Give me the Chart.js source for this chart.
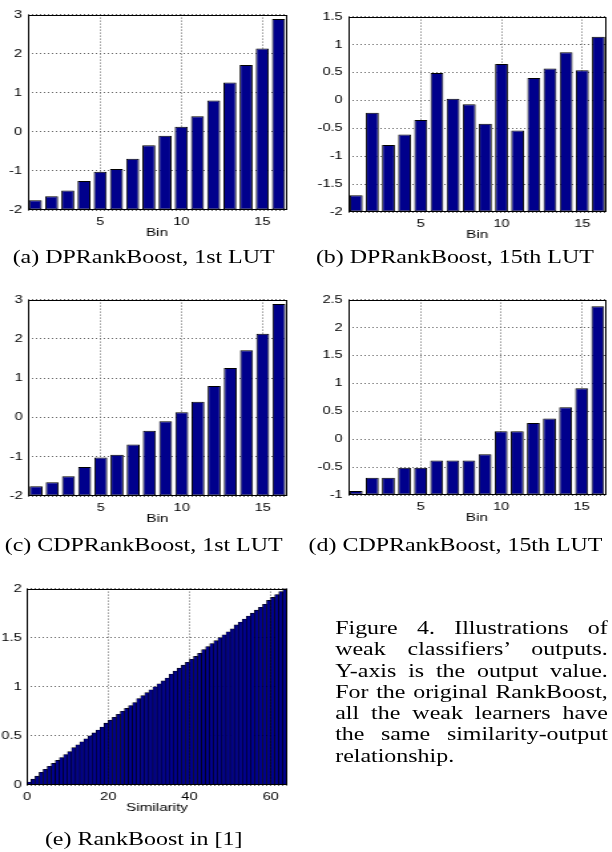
<!DOCTYPE html>
<html>
<head>
<meta charset="utf-8">
<script src="https://cdn.jsdelivr.net/npm/chart.js@4"></script>
<style>
html, body { margin: 0; padding: 0; background: #fff; overflow: hidden; }
#page { position: relative; width: 460px; height: 852px; transform: scaleX(1.33); transform-origin: 0 0; }
canvas { position: absolute; }
.cap { position: absolute; font-family: 'Liberation Serif', 'Times New Roman', serif; font-size: 18px; line-height: 18px; text-align: center; white-space: nowrap; color: #000; }
#note { position: absolute; left: 252px; top: 618px; width: 205px; font-family: 'Liberation Serif', 'Times New Roman', serif; font-size: 18px; line-height: 21.3px; text-align: justify; color: #000; }
.nw { white-space: nowrap; }
</style>
</head>
<body>
<div id="page">
  <canvas id="chartA" width="230" height="246" style="left:0px;top:4px"></canvas>
  <canvas id="chartB" width="225" height="246" style="left:235px;top:6px"></canvas>
  <canvas id="chartC" width="230" height="247" style="left:0px;top:289px"></canvas>
  <canvas id="chartD" width="225" height="246" style="left:235px;top:289px"></canvas>
  <canvas id="chartE" width="230" height="247" style="left:0px;top:578px"></canvas>
  <div class="cap" style="left:0px;width:216px;top:248px">(a) DPRankBoost, 1st LUT</div>
  <div class="cap" style="left:232px;width:220px;top:248px">(b) DPRankBoost, 15th LUT</div>
  <div class="cap" style="left:0px;width:216px;top:536px">(c) CDPRankBoost, 1st LUT</div>
  <div class="cap" style="left:232px;width:220px;top:536px">(d) CDPRankBoost, 15th LUT</div>
  <div class="cap" style="left:0px;width:216px;top:830px">(e) RankBoost in [1]</div>
  <div id="note">Figure 4. Illustrations of weak classifiers’ outputs. <span class="nw">Y-axis</span> is the output value. For the original RankBoost, all the weak learners have the same <span class="nw">similarity-output</span> relationship.</div>
</div>
<script>
// lookup table bins
var bins = [1, 2, 3, 4, 5, 6, 7, 8, 9, 10, 11, 12, 13, 14, 15, 16];
var dpFirst = [-1.75, -1.65, -1.5, -1.26, -1.02, -0.95, -0.69, -0.34, -0.1, 0.13, 0.4, 0.8, 1.26, 1.71, 2.13, 2.89];
var dpFifteenth = [-1.7, -0.22, -0.8, -0.61, -0.35, 0.49, 0.03, -0.07, -0.42, 0.65, -0.54, 0.4, 0.57, 0.86, 0.54, 1.14];
var cdpFirst = [-1.75, -1.65, -1.5, -1.26, -1.02, -0.95, -0.69, -0.34, -0.1, 0.13, 0.4, 0.8, 1.26, 1.71, 2.13, 2.89];
var cdpFifteenth = [-0.93, -0.69, -0.69, -0.51, -0.51, -0.38, -0.38, -0.38, -0.27, 0.14, 0.14, 0.29, 0.37, 0.57, 0.91, 2.38];

// original RankBoost, similarity bins
var simBins = [0.5, 1.5, 2.5, 3.5, 4.5, 5.5, 6.5, 7.5, 8.5, 9.5, 10.5, 11.5, 12.5, 13.5, 14.5, 15.5,
  16.5, 17.5, 18.5, 19.5, 20.5, 21.5, 22.5, 23.5, 24.5, 25.5, 26.5, 27.5, 28.5, 29.5, 30.5, 31.5,
  32.5, 33.5, 34.5, 35.5, 36.5, 37.5, 38.5, 39.5, 40.5, 41.5, 42.5, 43.5, 44.5, 45.5, 46.5, 47.5,
  48.5, 49.5, 50.5, 51.5, 52.5, 53.5, 54.5, 55.5, 56.5, 57.5, 58.5, 59.5, 60.5, 61.5, 62.5, 63.5];
var simValues = [0.03, 0.06, 0.09, 0.13, 0.16, 0.19, 0.22, 0.25, 0.28, 0.31, 0.34, 0.38, 0.41, 0.44, 0.47, 0.5,
  0.53, 0.56, 0.59, 0.63, 0.66, 0.69, 0.72, 0.75, 0.78, 0.81, 0.84, 0.88, 0.91, 0.94, 0.97, 1.0,
  1.03, 1.06, 1.09, 1.13, 1.16, 1.19, 1.22, 1.25, 1.28, 1.31, 1.34, 1.38, 1.41, 1.44, 1.47, 1.5,
  1.53, 1.56, 1.59, 1.63, 1.66, 1.69, 1.72, 1.75, 1.78, 1.81, 1.84, 1.88, 1.91, 1.94, 1.97, 2.0];

var binTicks = [5, 10, 15];
var simTicks = [0, 20, 40, 60];
var yTicksFirst = [-2, -1, 0, 1, 2, 3];
var yTicksDp15 = [-2, -1.5, -1, -0.5, 0, 0.5, 1, 1.5];
var yTicksCdp15 = [-1, -0.5, 0, 0.5, 1, 1.5, 2, 2.5];
var yTicksSim = [0, 0.5, 1, 1.5, 2];

Chart.defaults.font.family = "'Liberation Sans', Arial, sans-serif";
Chart.defaults.font.size = 11;
Chart.defaults.color = "#000";

// matlab style closed box around the axes
var boxPlugin = {
  id: "box",
  afterDatasetsDraw: function (chart) {
    var a = chart.chartArea, ctx = chart.ctx;
    ctx.save();
    ctx.strokeStyle = "#000";
    ctx.lineWidth = 1;
    ctx.strokeRect(Math.round(a.left) + 0.5, Math.round(a.top) + 0.5,
      Math.round(a.right - a.left) - 1, Math.round(a.bottom - a.top) - 1);
    ctx.restore();
  }
};

function setTicks(list) {
  return function (scale) {
    scale.ticks = list.map(function (v) { return { value: v }; });
  };
}

function makeChart(id, xs, ys, o) {
  var points = xs.map(function (x, i) { return { x: x, y: ys[i] }; });
  return new Chart(document.getElementById(id), {
    type: "bar",
    data: {
      datasets: [{
        data: points,
        base: o.yMin,
        backgroundColor: "#00008c",
        borderColor: "#000",
        borderWidth: o.edge,
        borderSkipped: false,
        barPercentage: o.barPct,
        categoryPercentage: 1.0
      }]
    },
    options: {
      responsive: false,
      animation: false,
      layout: { padding: { top: 8, right: o.padRight, left: 0, bottom: 0 } },
      plugins: { legend: { display: false }, tooltip: { enabled: false } },
      scales: {
        x: {
          type: "linear",
          min: o.xMin,
          max: o.xMax,
          offset: false,
          afterBuildTicks: setTicks(o.xTicks),
          afterFit: function (s) { s.height = 40; },
          ticks: { autoSkip: false, maxRotation: 0, padding: 5, callback: function (v) { return String(v); } },
          grid: { offset: false, color: "#666", drawTicks: false },
          border: { display: false, dash: [1, 2] },
          title: { display: true, text: o.xTitle, font: { size: 11.5 }, padding: { top: 0, bottom: 10 } }
        },
        y: {
          min: o.yMin,
          max: o.yMax,
          afterBuildTicks: setTicks(o.yTicks),
          afterFit: function (s) { s.width = o.yWidth; },
          ticks: { autoSkip: false, padding: 4, callback: function (v) { return String(v); } },
          grid: { color: "#666", drawTicks: false },
          border: { display: false, dash: [1, 2] }
        }
      }
    },
    plugins: [boxPlugin]
  });
}

makeChart("chartA", bins, dpFirst, { xMin: 0.5, xMax: 16.5, xTicks: binTicks, yMin: -2, yMax: 3, yTicks: yTicksFirst, xTitle: "Bin", yWidth: 20.5, padRight: 14.5, barPct: 0.8, edge: 1 });
makeChart("chartB", bins, dpFifteenth, { xMin: 0.5, xMax: 16.5, xTicks: binTicks, yMin: -2, yMax: 1.5, yTicks: yTicksDp15, xTitle: "Bin", yWidth: 26.7, padRight: 4, barPct: 0.8, edge: 1 });
makeChart("chartC", bins, cdpFirst, { xMin: 0.5, xMax: 16.5, xTicks: binTicks, yMin: -2, yMax: 3, yTicks: yTicksFirst, xTitle: "Bin", yWidth: 21, padRight: 14.2, barPct: 0.8, edge: 1 });
makeChart("chartD", bins, cdpFifteenth, { xMin: 0.5, xMax: 16.5, xTicks: binTicks, yMin: -1, yMax: 2.5, yTicks: yTicksCdp15, xTitle: "Bin", yWidth: 26.7, padRight: 4.5, barPct: 0.8, edge: 1 });
makeChart("chartE", simBins, simValues, { xMin: 0, xMax: 64, xTicks: simTicks, yMin: 0, yMax: 2, yTicks: yTicksSim, xTitle: "Similarity", yWidth: 20.3, padRight: 14.2, barPct: 1.0, edge: 0.6 });
</script>
</body>
</html>
